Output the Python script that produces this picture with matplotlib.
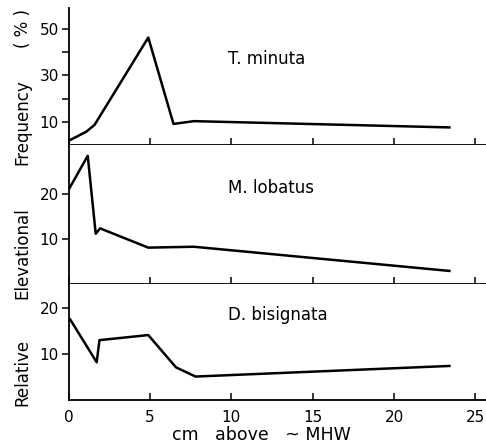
import matplotlib
matplotlib.use('Agg')
import matplotlib.pyplot as plt

# distance above MHW (cm) and relative elevational frequency (%)
x_tm = [0, 1.1, 1.6, 4.9, 6.45, 7.7, 23.4]
y_tm = [1.8, 5.8, 8.7, 46.3, 9.1, 10.3, 7.6]

x_ml = [0, 1.18, 1.67, 1.94, 4.9, 7.7, 23.4]
y_ml = [21.0, 28.6, 11.2, 12.4, 8.1, 8.3, 2.9]

x_db = [0.1, 1.73, 1.9, 4.9, 6.6, 7.8, 23.4]
y_db = [17.5, 8.2, 13.0, 14.1, 7.1, 5.1, 7.4]

species = ['T. minuta', 'M. lobatus', 'D. bisignata']
ylims = [59, 31, 25.2]
yticks = [[10, 30, 50], [10, 20], [10, 20]]
xticks = [0, 5, 10, 15, 20, 25]

plt.rcParams['font.family'] = 'DejaVu Sans'
fig = plt.figure(figsize=(4.86, 4.45), dpi=100)

boxes = [(0.674, 0.982), (0.362, 0.674), (0.101, 0.362)]
data = [(x_tm, y_tm), (x_ml, y_ml), (x_db, y_db)]

for i, ((b, t), (xs, ys)) in enumerate(zip(boxes, data)):
    ax = fig.add_axes([0.141, b, 0.859, t - b])
    ax.plot(xs, ys, color='black', lw=1.8)
    ax.set_xlim(0, 25.65)
    ax.set_ylim(0, ylims[i])
    ax.spines['top'].set_visible(False)
    ax.spines['right'].set_visible(False)
    ax.spines['left'].set_linewidth(1.3)
    ax.spines['bottom'].set_linewidth(1.3)
    ax.set_xticks(xticks)
    ax.tick_params(axis='x', direction='in', length=5, width=1.1)
    ax.tick_params(axis='y', direction='out', length=5, width=1.1, labelsize=11, pad=2)
    ax.set_yticks(yticks[i])
    if i == 0:
        ax.set_yticks([20, 40], minor=True)
        ax.tick_params(axis='y', which='minor', direction='out', length=5, width=1.1)
    if i < 2:
        ax.set_xticklabels([])
    else:
        ax.tick_params(axis='x', labelsize=11, pad=7)
    ax.text(0.382, [0.63, 0.69, 0.73][i], species[i], transform=ax.transAxes,
            fontsize=12, va='center', ha='left')

fig.text(0.538, 0.022, 'cm   above   ~ MHW', ha='center', va='center', fontsize=12.5)

for word, yc in [('Relative', 372), ('Elevational', 253), ('Frequency', 122), ('( % )', 29)]:
    fig.text(0.047, 1 - yc / 445, word, rotation=90, ha='center', va='center', fontsize=12)

fig.savefig('out.png', dpi=100)
